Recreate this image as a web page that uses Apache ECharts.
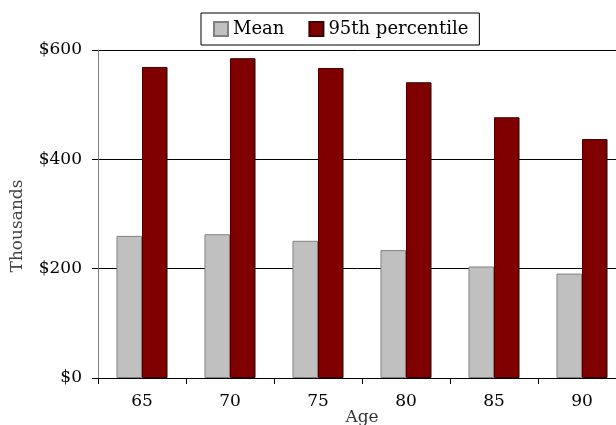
<!DOCTYPE html>
<html>
<head>
<meta charset="utf-8">
<script src="https://cdn.jsdelivr.net/npm/echarts@6/dist/echarts.min.js"></script>
<style>
html,body{margin:0;padding:0;background:#fff;}
#chart{width:616px;height:425px;}
</style>
</head>
<body>
<div id="chart"></div>
<script>
var categories = ['65', '70', '75', '80', '85', '90'];
var meanValues = [260, 263, 251, 234, 204, 191];
var p95Values = [569, 585, 567, 541, 477, 437];
var yTicks = [0, 200, 400, 600];

var FONT = '"DejaVu Serif", "Liberation Serif", serif';
var chart = echarts.init(document.getElementById('chart'));
chart.setOption({
  animation: false,
  backgroundColor: '#fff',
  textStyle: { fontFamily: FONT },
  legend: {
    left: 201,
    top: 13,
    icon: 'rect',
    itemWidth: 14,
    itemHeight: 14,
    itemGap: 24,
    padding: [7, 11, 7, 12],
    borderColor: '#000',
    borderWidth: 1,
    textStyle: { fontFamily: FONT, fontSize: 18, color: '#000' },
    data: ['Mean', '95th percentile']
  },
  grid: { left: 98, top: 50, width: 528, height: 328, containLabel: false, outerBoundsMode: 'none' },
  xAxis: {
    type: 'category',
    data: categories,
    name: 'Age',
    nameLocation: 'middle',
    nameGap: 31,
    nameMoveOverlap: false,
    nameTextStyle: { fontFamily: FONT, fontSize: 17, color: '#333', verticalAlign: 'top' },
    axisLine: { lineStyle: { color: '#000', width: 1 } },
    axisTick: { show: true, length: 6, lineStyle: { color: '#000' } },
    axisLabel: { fontFamily: FONT, fontSize: 17, color: '#000', margin: 15 },
    splitLine: { show: false }
  },
  yAxis: {
    type: 'value',
    min: yTicks[0],
    max: yTicks[yTicks.length - 1],
    interval: 200,
    name: 'Thousands',
    nameLocation: 'middle',
    nameGap: 72,
    nameRotate: 90,
    nameMoveOverlap: false,
    nameTextStyle: { fontFamily: FONT, fontSize: 17, color: '#444', padding: [0, 24, 0, 0] },
    axisLine: { show: true, lineStyle: { color: '#808080', width: 1 } },
    axisTick: { show: true, length: 6, lineStyle: { color: '#000' } },
    axisLabel: {
      fontFamily: FONT, fontSize: 17, color: '#000', margin: 16,
      formatter: function (v) { return '$' + v; }
    },
    splitLine: { show: true, lineStyle: { color: '#000', width: 1 } }
  },
  series: [
    {
      name: 'Mean',
      type: 'bar',
      data: meanValues,
      barGap: '0%',
      barCategoryGap: '42%',
      itemStyle: { color: '#C0C0C0', borderColor: '#808080', borderWidth: 1 }
    },
    {
      name: '95th percentile',
      type: 'bar',
      data: p95Values,
      barGap: '0%',
      barCategoryGap: '42%',
      itemStyle: { color: '#800000', borderColor: '#3a0000', borderWidth: 1 }
    }
  ]
});
</script>
</body>
</html>
